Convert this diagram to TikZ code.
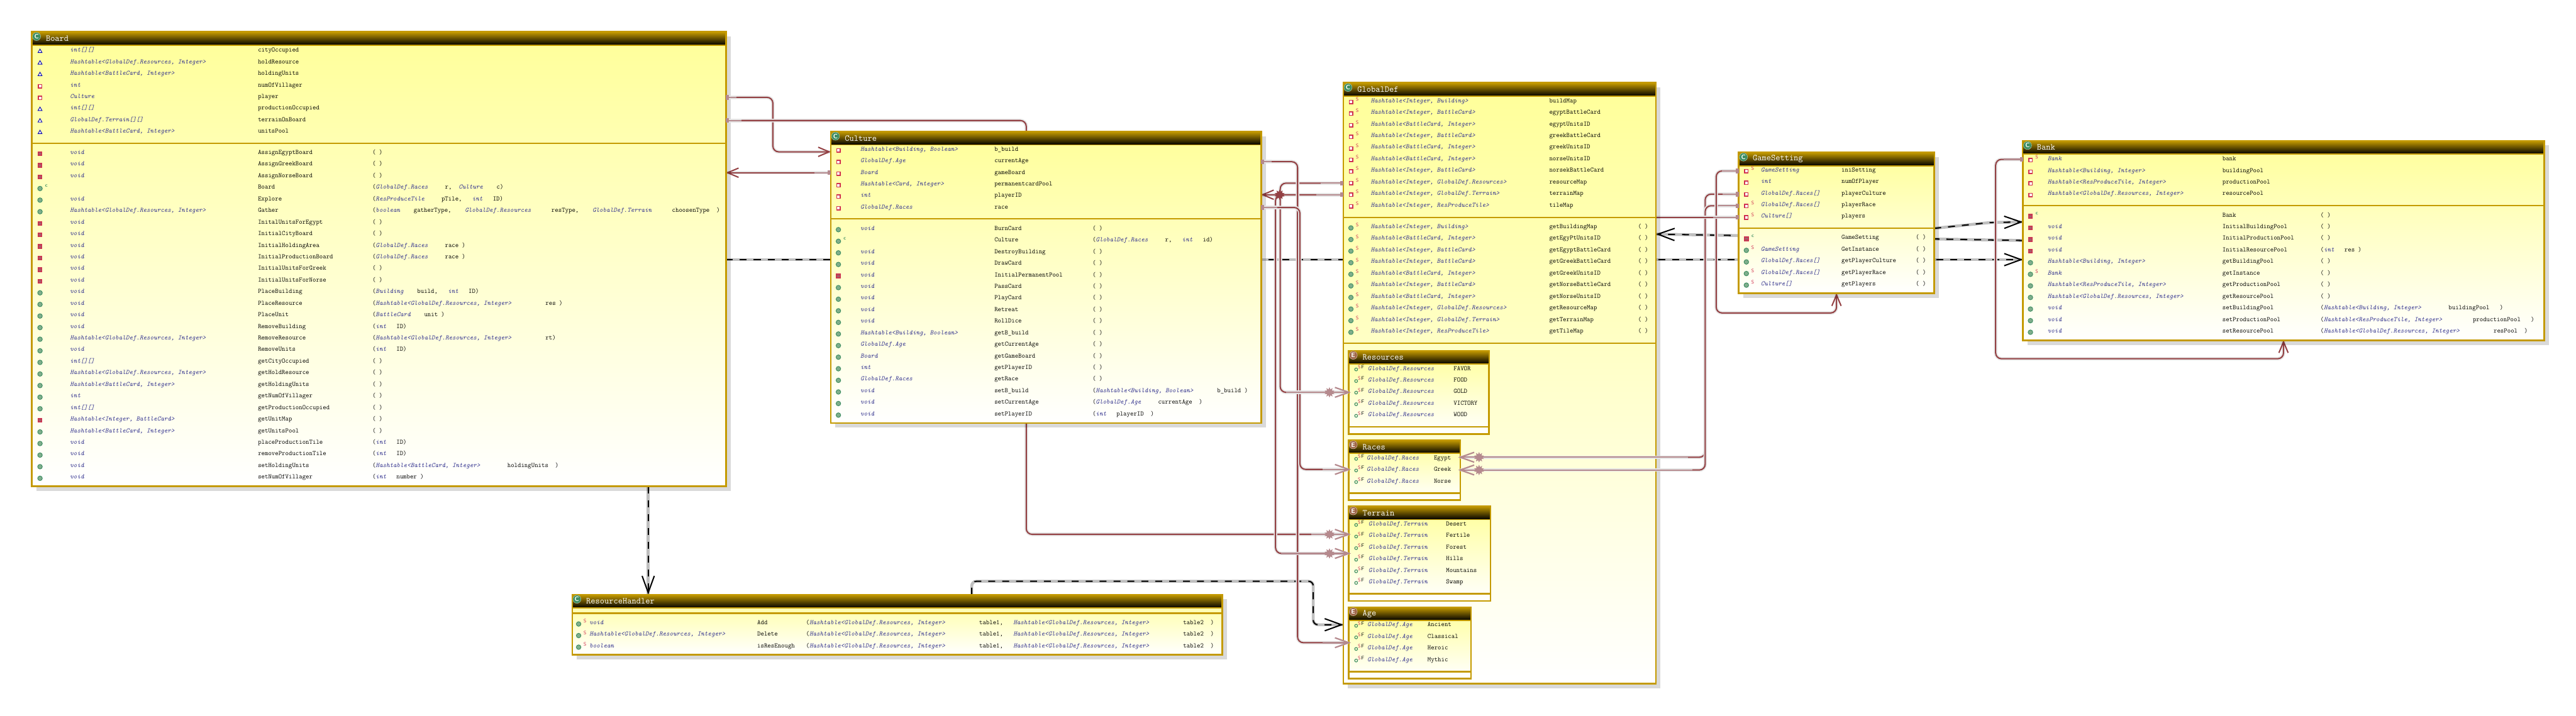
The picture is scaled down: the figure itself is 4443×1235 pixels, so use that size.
\documentclass[tikz,border=0pt]{standalone}
\usepackage{tikz}
\usetikzlibrary{arrows.meta, positioning, shapes.geometric, shadows}

\definecolor{goldc}{HTML}{C49A00}
\definecolor{yellowc}{HTML}{FFFF99}
\definecolor{typec}{HTML}{33338F}
\definecolor{maroonc}{HTML}{934043}
\definecolor{pinkc}{HTML}{B58A8E}
\definecolor{crimc}{HTML}{D0304F}
\definecolor{greenc}{HTML}{3E8E62}
\definecolor{paleg}{HTML}{7FAE8C}
\definecolor{brownc}{HTML}{A0684A}

\pgfdeclarelayer{bg}
\pgfsetlayers{bg,main}

\newcommand{\rowfont}{\ttfamily\fontsize{11.43}{12}\selectfont}
\newcommand{\tp}[1]{{\itshape\color{typec}#1}}
\newcommand{\mS}{\textcolor{crimc}{S}}
\newcommand{\mC}{\textcolor{greenc}{\bfseries c}}

% box, title bar, badge and title
\newcommand{\classbox}[8]{
  \pgfmathsetmacro\bw{#7-#5}
  \pgfmathsetmacro\bh{#8-#6}
  \node[#1, minimum width=\bw pt, minimum height=\bh pt] (#3) at (#5,#6) {};
  \node[hdr, minimum width=\bw pt] (#3-h) at (#5,#6) {};
  \node[#1b] (#3-b) at (#5+8,#6+8) {#2};
  \node[ttl] (#3-t) at (#5+24,#6+11.5) {#4};
}

% icon/marker/type/name/arguments, one row every 20
\newcommand{\rowlist}[7]{
  \foreach \ic/\st/\ty/\nm/\ar [count=\k] in {#7} {
    \pgfmathsetmacro\yy{#6+20*(\k-1)}
    \node[\ic] (#1-i\k) at (#2,\yy+2) {};
    \node[mk] (#1-m\k) at (#2+11,\yy-3) {\st};
    \node[typ] (#1-t\k) at (#3,\yy) {\ty};
    \node[nam] (#1-n\k) at (#4,\yy) {\nm};
    \node[nam] (#1-a\k) at (#5,\yy) {\ar};
  }
}

\newcommand{\enumrows}[6]{
  \foreach \nm [count=\k] in {#6} {
    \pgfmathsetmacro\yy{#4+20*(\k-1)}
    \node[ring] (#1-i\k) at (2339,\yy+1.5) {};
    \node[mk] (#1-m\k) at (2344.5,\yy-3) {\mS};
    \node[mk] (#1-f\k) at (2350.5,\yy-3) {F};
    \node[typ] (#1-t\k) at (#2,\yy) {#5};
    \node[nam] (#1-n\k) at (#3,\yy) {\nm};
  }
}

\begin{document}
\begin{tikzpicture}[x=1pt, y=-1pt,
  cls/.style={rectangle, anchor=north west, draw=goldc, line width=3pt, top color=yellowc, bottom color=white,
    inner sep=0pt, outer sep=0pt, drop shadow={shadow xshift=8pt, shadow yshift=-8pt, fill=black, opacity=.15}},
  enu/.style={rectangle, anchor=north west, draw=goldc, line width=2.5pt, top color=yellowc, bottom color=white,
    inner sep=0pt, outer sep=0pt},
  hdr/.style={rectangle, anchor=north west, draw=goldc, line width=2pt, top color=goldc, bottom color=black,
    minimum height=23pt, inner sep=0pt, outer sep=0pt},
  clsb/.style={circle, fill=greenc, draw=white!70!greenc, text=white, minimum size=14pt, inner sep=0pt,
    font=\sffamily\bfseries\fontsize{11}{11}\selectfont},
  enub/.style={circle, fill=brownc, draw=white!70!brownc, text=white, minimum size=14pt, inner sep=0pt,
    font=\sffamily\bfseries\fontsize{11}{11}\selectfont},
  ttl/.style={anchor=west, inner sep=0pt, text=white, font=\ttfamily\fontsize{15.24}{16}\selectfont},
  typ/.style={anchor=west, inner sep=0pt, text height=8pt, text depth=2pt, font=\rowfont\itshape, text=typec},
  nam/.style={anchor=west, inner sep=0pt, text height=8pt, text depth=2pt, font=\rowfont},
  mk/.style={inner sep=0pt, font=\sffamily\fontsize{8.5}{9}\selectfont},
  fpk/.style={regular polygon, regular polygon sides=3, draw=blue!70!black, fill=white, line width=1pt,
    minimum size=8pt, inner sep=0pt},
  fpr/.style={rectangle, draw=crimc, fill=white, line width=1.6pt, minimum size=6pt, inner sep=0pt},
  mpr/.style={rectangle, draw=crimc, fill=crimc!75!gray, line width=1pt, minimum size=7pt, inner sep=0pt,
    path picture={\draw[black!50, line width=.8pt] ([xshift=-2pt]path picture bounding box.center)
      -- ([xshift=2pt]path picture bounding box.center);}},
  mpu/.style={circle, draw=greenc, fill=paleg, line width=1pt, minimum size=8pt, inner sep=0pt},
  ring/.style={circle, draw=greenc, line width=1.2pt, minimum size=5pt, inner sep=0pt},
  divline/.style={draw=goldc, line width=2.5pt},
  assoc/.style={draw=maroonc, line width=2.2pt, rounded corners=10pt,
    preaction={draw=black!10, line width=6pt, -}},
  atip/.style={-{Straight Barb[length=19pt, width=16pt]}},
  dep/.style={draw=black, line width=2.2pt, dash pattern=on 12pt off 12pt, rounded corners=8pt,
    preaction={draw=black!25, line width=5pt, solid, -}},
  dtip/.style={-{Straight Barb[length=29pt, width=21pt]}},
  stub/.style={draw=pinkc, line width=2.4pt, {Square[length=5pt, width=8pt]}-,
    preaction={draw=black!10, line width=6pt, -}},
  fadetip/.style={draw=pinkc, line width=2.4pt, -{Straight Barb[length=24pt, width=17pt]}, shorten >=-4pt,
    preaction={draw=black!10, line width=6pt, -, shorten >=0pt}},
  burst/.style={star, star points=10, star point ratio=1.7, fill=pinkc, minimum size=18pt, inner sep=0pt}]

  \useasboundingbox (0,0) rectangle (4443,1235);

  % boxes
  \classbox{cls}{C}{board}{Board}{55}{55}{1252}{839}
  \draw[divline] (board.west |- 0,247) -- (board.east |- 0,247);
  \rowlist{bf}{69}{120.7}{444.8}{642}{86.7}{
    fpk/{}/int[][]/cityOccupied/{},
    fpk/{}/{Hashtable<GlobalDef.Resources, Integer>}/holdResource/{},
    fpk/{}/{Hashtable<BattleCard, Integer>}/holdingUnits/{},
    fpr/{}/int/numOfVillager/{},
    fpr/{}/Culture/player/{},
    fpk/{}/int[][]/productionOccupied/{},
    fpk/{}/GlobalDef.Terrain[][]/terrainOnBoard/{},
    fpk/{}/{Hashtable<BattleCard, Integer>}/unitsPool/{}}
  \rowlist{bm}{69}{120.7}{444.8}{642}{263.3}{
    mpr/{}/void/AssignEgyptBoard/{( )},
    mpr/{}/void/AssignGreekBoard/{( )},
    mpr/{}/void/AssignNorseBoard/{( )},
    mpu/\mC/{}/Board/{(\tp{GlobalDef.Races}~~~~~r,~~\tp{Culture}~~~~c)},
    mpu/{}/void/Explore/{(\tp{ResProduceTile}~~~~~pTile,~~~\tp{int}~~~ID)},
    mpu/{}/{Hashtable<GlobalDef.Resources, Integer>}/Gather/{(\tp{boolean}~~~~gatherType,~~~~\tp{GlobalDef.Resources}~~~~~~resType,~~~~\tp{GlobalDef.Terrain}~~~~~~choosenType~~)},
    mpr/{}/void/InitalUnitsForEgypt/{( )},
    mpr/{}/void/InitialCityBoard/{( )},
    mpr/{}/void/InitialHoldingArea/{(\tp{GlobalDef.Races}~~~~~race~)},
    mpr/{}/void/InitialProductionBoard/{(\tp{GlobalDef.Races}~~~~~race~)},
    mpr/{}/void/InitialUnitsForGreek/{( )},
    mpr/{}/void/InitialUnitsForNorse/{( )},
    mpu/{}/void/PlaceBuilding/{(\tp{Building}~~~~build,~~~\tp{int}~~~ID)},
    mpu/{}/void/PlaceResource/{(\tp{Hashtable<GlobalDef.Resources, Integer>}~~~~~~~~~~res~)},
    mpu/{}/void/PlaceUnit/{(\tp{BattleCard}~~~~unit~)},
    mpu/{}/void/RemoveBuilding/{(\tp{int}~~~ID)},
    mpu/{}/{Hashtable<GlobalDef.Resources, Integer>}/RemoveResource/{(\tp{Hashtable<GlobalDef.Resources, Integer>}~~~~~~~~~~rt)},
    mpu/{}/void/RemoveUnits/{(\tp{int}~~~ID)},
    mpu/{}/int[][]/getCityOccupied/{( )},
    mpu/{}/{Hashtable<GlobalDef.Resources, Integer>}/getHoldResource/{( )},
    mpu/{}/{Hashtable<BattleCard, Integer>}/getHoldingUnits/{( )},
    mpu/{}/int/getNumOfVillager/{( )},
    mpu/{}/int[][]/getProductionOccupied/{( )},
    mpr/{}/{Hashtable<Integer, BattleCard>}/getUnitMap/{( )},
    mpu/{}/{Hashtable<BattleCard, Integer>}/getUnitsPool/{( )},
    mpu/{}/void/placeProductionTile/{(\tp{int}~~~ID)},
    mpu/{}/void/removeProductionTile/{(\tp{int}~~~ID)},
    mpu/{}/void/setHoldingUnits/{(\tp{Hashtable<BattleCard, Integer>}~~~~~~~~holdingUnits~~)},
    mpu/{}/void/setNumOfVillager/{(\tp{int}~~~number~)}}

  \classbox{cls}{C}{culture}{Culture}{1433}{227}{2175}{730}
  \draw[divline] (culture.west |- 0,377.5) -- (culture.east |- 0,377.5);
  \rowlist{cf}{1446}{1483.7}{1715}{1884}{257.5}{
    fpr/{}/{Hashtable<Building, Boolean>}/b\_build/{},
    fpr/{}/GlobalDef.Age/currentAge/{},
    fpr/{}/Board/gameBoard/{},
    fpr/{}/{Hashtable<Card, Integer>}/permanentcardPool/{},
    fpr/{}/int/playerID/{},
    fpr/{}/GlobalDef.Races/race/{}}
  \rowlist{cm}{1446}{1483.7}{1715}{1884}{394.3}{
    mpu/{}/void/BurnCard/{( )},
    mpu/\mC/{}/Culture/{(\tp{GlobalDef.Races}~~~~~r,~~~\tp{int}~~~id)},
    mpu/{}/void/DestroyBuilding/{( )},
    mpu/{}/void/DrawCard/{( )},
    mpr/{}/void/InitialPermanentPool/{( )},
    mpu/{}/void/PassCard/{( )},
    mpu/{}/void/PlayCard/{( )},
    mpu/{}/void/Retreat/{( )},
    mpu/{}/void/RollDice/{( )},
    mpu/{}/{Hashtable<Building, Boolean>}/getB\_build/{( )},
    mpu/{}/GlobalDef.Age/getCurrentAge/{( )},
    mpu/{}/Board/getGameBoard/{( )},
    mpu/{}/int/getPlayerID/{( )},
    mpu/{}/GlobalDef.Races/getRace/{( )},
    mpu/{}/void/setB\_build/{(\tp{Hashtable<Building, Boolean>}~~~~~~~b\_build~)},
    mpu/{}/void/setCurrentAge/{(\tp{GlobalDef.Age}~~~~~currentAge~~)},
    mpu/{}/void/setPlayerID/{(\tp{int}~~~playerID~~)}}

  \classbox{cls}{C}{global}{GlobalDef}{2317}{143}{2856}{1180}
  \draw[divline] (global.west |- 0,375) -- (global.east |- 0,375);
  \draw[divline] (global.west |- 0,592) -- (global.east |- 0,592);
  \rowlist{gf}{2330}{2364}{2672}{2825}{174}{
    fpr/\mS/{Hashtable<Integer, Building>}/buildMap/{},
    fpr/\mS/{Hashtable<Integer, BattleCard>}/egyptBattleCard/{},
    fpr/\mS/{Hashtable<BattleCard, Integer>}/egyptUnitsID/{},
    fpr/\mS/{Hashtable<Integer, BattleCard>}/greekBattleCard/{},
    fpr/\mS/{Hashtable<BattleCard, Integer>}/greekUnitsID/{},
    fpr/\mS/{Hashtable<BattleCard, Integer>}/norseUnitsID/{},
    fpr/\mS/{Hashtable<Integer, BattleCard>}/norsekBattleCard/{},
    fpr/\mS/{Hashtable<Integer, GlobalDef.Resources>}/resourceMap/{},
    fpr/\mS/{Hashtable<Integer, GlobalDef.Terrain>}/terrainMap/{},
    fpr/\mS/{Hashtable<Integer, ResProduceTile>}/tileMap/{}}
  \rowlist{gm}{2330}{2364}{2672}{2825}{391.3}{
    mpu/\mS/{Hashtable<Integer, Building>}/getBuildingMap/{( )},
    mpu/\mS/{Hashtable<BattleCard, Integer>}/getEgyPtUnitsID/{( )},
    mpu/\mS/{Hashtable<Integer, BattleCard>}/getEgyptBattleCard/{( )},
    mpu/\mS/{Hashtable<Integer, BattleCard>}/getGreekBattleCard/{( )},
    mpu/\mS/{Hashtable<BattleCard, Integer>}/getGreekUnitsID/{( )},
    mpu/\mS/{Hashtable<Integer, BattleCard>}/getNorseBattleCard/{( )},
    mpu/\mS/{Hashtable<BattleCard, Integer>}/getNorseUnitsID/{( )},
    mpu/\mS/{Hashtable<Integer, GlobalDef.Resources>}/getResourceMap/{( )},
    mpu/\mS/{Hashtable<Integer, GlobalDef.Terrain>}/getTerrainMap/{( )},
    mpu/\mS/{Hashtable<Integer, ResProduceTile>}/getTileMap/{( )}}

  % enums inside GlobalDef
  \classbox{enu}{E}{res}{Resources}{2326}{605}{2568}{749}
  \draw[divline] (res.west |- 0,736.5) -- (res.east |- 0,736.5);
  \enumrows{rs}{2359}{2507}{636}{GlobalDef.Resources}{FAVOR,FOOD,GOLD,VICTORY,WOOD}
  \classbox{enu}{E}{races}{Races}{2326}{759.5}{2519}{863}
  \draw[divline] (races.west |- 0,851) -- (races.east |- 0,851);
  \enumrows{rc}{2357}{2473}{790.3}{GlobalDef.Races}{Egypt,Greek,Norse}
  \classbox{enu}{E}{terrain}{Terrain}{2326}{873.5}{2571}{1037}
  \draw[divline] (terrain.west |- 0,1024.5) -- (terrain.east |- 0,1024.5);
  \enumrows{tr}{2360}{2494}{904.3}{GlobalDef.Terrain}{Desert,Fertile,Forest,Hills,Mountains,Swamp}
  \classbox{enu}{E}{age}{Age}{2326}{1047.5}{2537}{1171}
  \draw[divline] (age.west |- 0,1159) -- (age.east |- 0,1159);
  \enumrows{ag}{2358}{2462}{1078.3}{GlobalDef.Age}{Ancient,Classical,Heroic,Mythic}

  \classbox{cls}{C}{game}{GameSetting}{2999}{263}{3336}{506}
  \draw[divline] (game.west |- 0,394) -- (game.east |- 0,394);
  \rowlist{sf}{3012}{3036.7}{3176}{3304}{293.3}{
    fpr/\mS/GameSetting/iniSetting/{},
    fpr/{}/int/numOfPlayer/{},
    fpr/{}/GlobalDef.Races[]/playerCulture/{},
    fpr/\mS/GlobalDef.Races[]/playerRace/{},
    fpr/\mS/Culture[]/players/{}}
  \rowlist{sm}{3012}{3036.7}{3176}{3304}{410}{
    mpr/\mC/{}/GameSetting/{( )},
    mpu/\mS/GameSetting/GetInstance/{( )},
    mpu/{}/GlobalDef.Races[]/getPlayerCulture/{( )},
    mpu/\mS/GlobalDef.Races[]/getPlayerRace/{( )},
    mpu/\mS/Culture[]/getPlayers/{( )}}

  \classbox{cls}{C}{bank}{Bank}{3489}{243}{4388}{587}
  \draw[divline] (bank.west |- 0,355) -- (bank.east |- 0,355);
  \rowlist{kf}{3502}{3531.5}{3833}{4002}{274.3}{
    fpr/\mS/Bank/bank/{},
    fpr/{}/{Hashtable<Building, Integer>}/buildingPool/{},
    fpr/{}/{Hashtable<ResProduceTile, Integer>}/productionPool/{},
    fpr/{}/{Hashtable<GlobalDef.Resources, Integer>}/resourcePool/{}}
  \rowlist{km}{3502}{3531.5}{3833}{4002}{371.3}{
    mpr/\mC/{}/Bank/{( )},
    mpr/{}/void/InitialBuildingPool/{( )},
    mpr/{}/void/InitialProductionPool/{( )},
    mpr/{}/void/InitialResourcePool/{(\tp{int}~~~res~)},
    mpu/{}/{Hashtable<Building, Integer>}/getBuildingPool/{( )},
    mpu/\mS/Bank/getInstance/{( )},
    mpu/{}/{Hashtable<ResProduceTile, Integer>}/getProductionPool/{( )},
    mpu/{}/{Hashtable<GlobalDef.Resources, Integer>}/getResourcePool/{( )},
    mpu/{}/void/setBuildingPool/{(\tp{Hashtable<Building, Integer>}~~~~~~~~buildingPool~~~)},
    mpu/{}/void/setProductionPool/{(\tp{Hashtable<ResProduceTile, Integer>}~~~~~~~~~productionPool~~~)},
    mpu/{}/void/setResourcePool/{(\tp{Hashtable<GlobalDef.Resources, Integer>}~~~~~~~~~~resPool~~)}}

  \classbox{cls}{C}{handler}{ResourceHandler}{987}{1026}{2108}{1130}
  \draw[divline] (handler.west |- 0,1058) -- (handler.east |- 0,1058);
  \rowlist{hm}{998}{1016.6}{1306}{1390}{1074.7}{
    mpu/\mS/void/Add/{(\tp{Hashtable<GlobalDef.Resources, Integer>}~~~~~~~~~~table1,~~~\tp{Hashtable<GlobalDef.Resources, Integer>}~~~~~~~~~~table2~~)},
    mpu/\mS/{Hashtable<GlobalDef.Resources, Integer>}/Delete/{(\tp{Hashtable<GlobalDef.Resources, Integer>}~~~~~~~~~~table1,~~~\tp{Hashtable<GlobalDef.Resources, Integer>}~~~~~~~~~~table2~~)},
    mpu/\mS/boolean/isResEnough/{(\tp{Hashtable<GlobalDef.Resources, Integer>}~~~~~~~~~~table1,~~~\tp{Hashtable<GlobalDef.Resources, Integer>}~~~~~~~~~~table2~~)}}

  % connectors run behind the boxes
  \begin{pgfonlayer}{bg}
    \draw[dep, dtip] (board.east |- 0,448) -- (bank.west |- 0,448);
    \draw[dep, dtip] (game.east |- 0,394) -- (3432,384) -- (bank.west |- 0,383);
    \draw[dep, dtip] (bank.west |- 0,415) -- (global.east |- 0,404);
    \draw[dep, dtip] (board.south -| 1118,0) -- (handler.north -| 1118,0);
    \draw[dep, dtip] (handler.north -| 1676,0) |- (2265,1003) |- (global.west |- 0,1078);

    \draw[assoc, atip] (board.east |- 0,168) -| (1333,220) |- (culture.west |- 0,262);
    \draw[assoc] (board.east |- 0,208) -| (1770,500) |- (terrain.west |- 0,922);
    \draw[assoc, atip] (culture.west |- 0,298) -- (board.east |- 0,298);
    \draw[assoc, atip] (global.west |- 0,336) -- (culture.east |- 0,336);
    \draw[assoc] (global.west |- 0,316) -| (2208,500) |- (res.west |- 0,677);
    \draw[assoc] (global.west |- 0,336) -| (2200,500) |- (terrain.west |- 0,955);
    \draw[assoc] (culture.east |- 0,279) -| (2238,500) |- (age.west |- 0,1109);
    \draw[assoc] (culture.east |- 0,358) -| (2242,500) |- (races.west |- 0,810);
    \draw[assoc] (game.west |- 0,335) -| (2941,500) |- (races.east |- 0,789);
    \draw[assoc] (game.west |- 0,355) -| (2941,500) |- (races.east |- 0,811);
    \draw[assoc] (game.west |- 0,375) -- (global.east |- 0,375);
    \draw[assoc, atip] (game.west |- 0,295) -| (2960,420) |- (game.south |- 0,540) -- (game.south);
    \draw[assoc, atip] (bank.west |- 0,275) -| (3442,450) |- (bank.south |- 0,619) -- (bank.south);
  \end{pgfonlayer}

  % faded ends of the connectors
  \draw[stub] (board.east |- 0,168) -- ++(18,0);
  \draw[stub] (board.east |- 0,208) -- ++(27,0);
  \draw[stub] (culture.west |- 0,298) -- ++(-28,0);
  \draw[stub] (culture.east |- 0,279) -- ++(18,0);
  \draw[stub] (culture.east |- 0,358) -- ++(28,0);
  \draw[stub] (global.west |- 0,316) -- ++(-39,0);
  \draw[stub] (global.west |- 0,336) -- ++(-47,0);
  \draw[stub] (game.west |- 0,295) -- ++(-29,0);
  \draw[stub] (game.west |- 0,335) -- ++(-28,0);
  \draw[stub] (game.west |- 0,355) -- ++(-36,0);
  \draw[stub] (game.west |- 0,375) -- ++(-44,0);
  \draw[stub] (bank.west |- 0,275) -- ++(-33,0);

  \draw[fadetip] ([xshift=-108pt]res.west |- 0,677) -- (res.west |- 0,677);
  \draw[fadetip] ([xshift=-45pt]races.west |- 0,810) -- (races.west |- 0,810);
  \draw[fadetip] ([xshift=-64pt]terrain.west |- 0,922) -- (terrain.west |- 0,922);
  \draw[fadetip] ([xshift=-116pt]terrain.west |- 0,955) -- (terrain.west |- 0,955);
  \draw[fadetip] ([xshift=-45pt]age.west |- 0,1109) -- (age.west |- 0,1109);
  \draw[fadetip] ([xshift=392pt]races.east |- 0,789) -- (races.east |- 0,789);
  \draw[fadetip] ([xshift=400pt]races.east |- 0,811) -- (races.east |- 0,811);

  \node[burst] (s1) at ([xshift=-33pt]res.west |- 0,677) {};
  \node[burst] (s2) at ([xshift=-33pt]terrain.west |- 0,922) {};
  \node[burst] (s3) at ([xshift=-33pt]terrain.west |- 0,955) {};
  \node[burst] (s4) at ([xshift=32pt]races.east |- 0,789) {};
  \node[burst] (s5) at ([xshift=32pt]races.east |- 0,811) {};
  \node[burst, fill=maroonc] (s6) at ([xshift=32pt]culture.east |- 0,336) {};
\end{tikzpicture}
\end{document}
